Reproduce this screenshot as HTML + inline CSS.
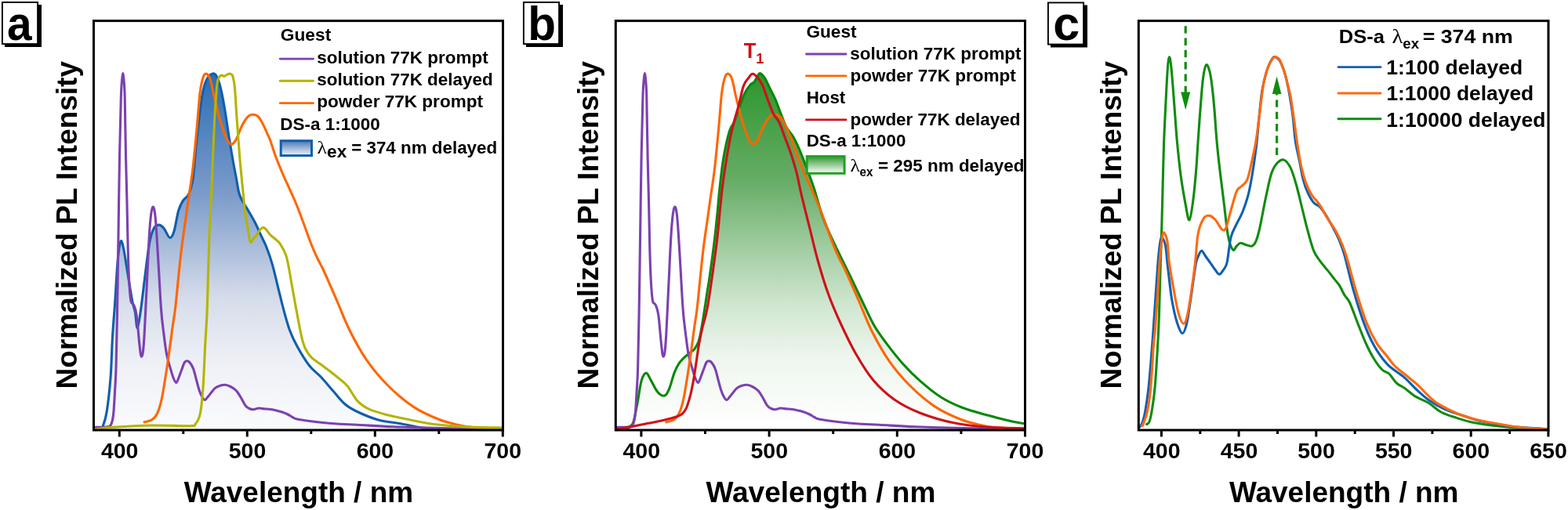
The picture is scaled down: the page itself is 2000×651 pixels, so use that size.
<!DOCTYPE html>
<html><head><meta charset="utf-8"><title>PL spectra</title>
<style>html,body{margin:0;padding:0;background:#fff;}svg{display:block;}</style>
</head><body>
<svg width="2000" height="651" viewBox="0 0 2000 651">
<defs>
<linearGradient id="gblue" x1="0" y1="93" x2="0" y2="548" gradientUnits="userSpaceOnUse">
<stop offset="0" stop-color="#2a6cb2"/><stop offset="0.06" stop-color="#3a76b8"/><stop offset="0.345" stop-color="#7d9ccb"/><stop offset="0.63" stop-color="#d5dcea"/><stop offset="0.81" stop-color="#eef0f6"/><stop offset="1" stop-color="#fafbfd"/></linearGradient>
<linearGradient id="ggreen" x1="0" y1="93" x2="0" y2="548" gradientUnits="userSpaceOnUse">
<stop offset="0" stop-color="#2c962c"/><stop offset="0.3" stop-color="#66ac66"/><stop offset="0.5" stop-color="#a4cea4"/><stop offset="0.65" stop-color="#d0e6d0"/><stop offset="0.8" stop-color="#eef6ee"/><stop offset="1" stop-color="#ffffff"/></linearGradient>
<linearGradient id="gbluebox" x1="0" y1="0" x2="0" y2="1">
<stop offset="0" stop-color="#4a76b4"/><stop offset="1" stop-color="#f4f6fa"/></linearGradient>
<linearGradient id="ggreenbox" x1="0" y1="0" x2="0" y2="1">
<stop offset="0" stop-color="#2f962f"/><stop offset="1" stop-color="#ffffff"/></linearGradient>
</defs>
<rect width="2000" height="651" fill="#fff"/>
<rect x="6" y="6" width="47" height="54" fill="#000"/>
<rect x="2.9" y="2.9" width="45.2" height="53.2" fill="#fff" stroke="#000" stroke-width="1.9"/>
<text x="8.90" y="51.30" style="font-family:'Liberation Sans',Arial,Helvetica,sans-serif;font-weight:bold;font-size:62px" textLength="31.60" lengthAdjust="spacingAndGlyphs">a</text>
<path d="M120.5,548.0 C121.8,547.8 126.2,547.7 128.0,547.0 C129.8,546.3 129.9,547.3 131.3,543.7 C132.7,540.1 134.6,535.8 136.2,525.3 C137.8,514.8 139.9,496.9 141.1,481.0 C142.3,465.1 142.6,445.6 143.5,430.0 C144.4,414.4 145.5,403.5 146.6,387.2 C147.7,370.9 149.0,345.2 150.2,332.0 C151.4,318.8 152.7,310.6 153.9,308.1 C155.1,305.7 156.1,310.2 157.6,317.3 C159.1,324.4 161.3,339.4 163.1,350.4 C164.9,361.4 167.1,375.5 168.6,383.5 C170.1,391.5 171.2,392.5 172.3,398.3 C173.4,404.1 174.1,419.1 175.3,418.5 C176.5,417.9 178.0,406.0 179.7,394.6 C181.3,383.2 183.4,364.5 185.2,350.4 C187.0,336.3 188.9,319.7 190.7,309.9 C192.5,300.1 194.2,295.3 196.2,291.5 C198.2,287.7 200.8,287.1 202.9,287.1 C205.1,287.1 206.8,288.8 209.1,291.5 C211.4,294.2 214.3,302.7 216.5,303.3 C218.7,303.9 220.2,300.9 222.0,295.2 C223.8,289.5 225.7,275.8 227.5,269.4 C229.3,263.0 231.0,260.0 233.1,256.6 C235.2,253.2 238.2,252.1 240.0,249.0 C241.8,245.9 242.9,242.0 244.0,238.0 C245.1,234.0 245.5,233.1 246.5,225.0 C247.5,216.9 248.4,203.2 249.8,189.4 C251.2,175.6 253.5,154.6 255.0,142.4 C256.5,130.2 257.4,123.2 258.9,116.3 C260.4,109.3 262.1,104.4 264.1,100.7 C266.1,97.0 268.7,94.8 270.7,94.1 C272.7,93.4 274.2,93.9 275.9,96.7 C277.6,99.5 279.4,104.3 281.1,111.1 C282.8,117.8 284.6,127.2 286.3,137.2 C288.0,147.2 289.8,160.2 291.5,171.1 C293.2,182.0 294.9,192.4 296.7,202.4 C298.4,212.4 300.7,224.0 302.0,231.1 C303.3,238.2 303.5,241.1 304.5,245.0 C305.5,248.9 306.3,251.0 308.2,254.7 C310.1,258.4 312.7,262.1 315.6,267.0 C318.5,271.9 322.5,278.7 325.4,284.2 C328.3,289.7 330.3,294.9 332.8,300.2 C335.3,305.5 337.7,309.8 340.2,316.2 C342.7,322.6 345.2,329.7 347.6,338.3 C350.1,346.9 352.4,358.0 354.9,367.8 C357.3,377.6 359.8,388.3 362.3,397.3 C364.8,406.3 366.9,414.6 369.7,422.0 C372.5,429.4 374.9,434.6 379.0,442.0 C383.1,449.4 389.3,459.9 394.4,466.5 C399.5,473.1 404.6,476.0 409.7,481.5 C414.8,487.0 420.0,493.5 425.1,499.3 C430.2,505.1 434.8,511.6 440.4,516.2 C446.0,520.8 451.7,523.7 458.9,527.0 C466.1,530.3 474.7,533.9 483.4,536.2 C492.1,538.5 501.9,539.2 511.1,540.8 C520.3,542.4 530.0,544.9 538.7,546.0 C547.4,547.1 546.4,547.2 563.3,547.5 C580.2,547.8 627.2,547.9 640.0,548.0 L640.0,548.5 L120.5,548.5 Z" fill="url(#gblue)" stroke="none"/>
<path d="M120.5,548.0 C121.8,547.8 126.2,547.7 128.0,547.0 C129.8,546.3 129.9,547.3 131.3,543.7 C132.7,540.1 134.6,535.8 136.2,525.3 C137.8,514.8 139.9,496.9 141.1,481.0 C142.3,465.1 142.6,445.6 143.5,430.0 C144.4,414.4 145.5,403.5 146.6,387.2 C147.7,370.9 149.0,345.2 150.2,332.0 C151.4,318.8 152.7,310.6 153.9,308.1 C155.1,305.7 156.1,310.2 157.6,317.3 C159.1,324.4 161.3,339.4 163.1,350.4 C164.9,361.4 167.1,375.5 168.6,383.5 C170.1,391.5 171.2,392.5 172.3,398.3 C173.4,404.1 174.1,419.1 175.3,418.5 C176.5,417.9 178.0,406.0 179.7,394.6 C181.3,383.2 183.4,364.5 185.2,350.4 C187.0,336.3 188.9,319.7 190.7,309.9 C192.5,300.1 194.2,295.3 196.2,291.5 C198.2,287.7 200.8,287.1 202.9,287.1 C205.1,287.1 206.8,288.8 209.1,291.5 C211.4,294.2 214.3,302.7 216.5,303.3 C218.7,303.9 220.2,300.9 222.0,295.2 C223.8,289.5 225.7,275.8 227.5,269.4 C229.3,263.0 231.0,260.0 233.1,256.6 C235.2,253.2 238.2,252.1 240.0,249.0 C241.8,245.9 242.9,242.0 244.0,238.0 C245.1,234.0 245.5,233.1 246.5,225.0 C247.5,216.9 248.4,203.2 249.8,189.4 C251.2,175.6 253.5,154.6 255.0,142.4 C256.5,130.2 257.4,123.2 258.9,116.3 C260.4,109.3 262.1,104.4 264.1,100.7 C266.1,97.0 268.7,94.8 270.7,94.1 C272.7,93.4 274.2,93.9 275.9,96.7 C277.6,99.5 279.4,104.3 281.1,111.1 C282.8,117.8 284.6,127.2 286.3,137.2 C288.0,147.2 289.8,160.2 291.5,171.1 C293.2,182.0 294.9,192.4 296.7,202.4 C298.4,212.4 300.7,224.0 302.0,231.1 C303.3,238.2 303.5,241.1 304.5,245.0 C305.5,248.9 306.3,251.0 308.2,254.7 C310.1,258.4 312.7,262.1 315.6,267.0 C318.5,271.9 322.5,278.7 325.4,284.2 C328.3,289.7 330.3,294.9 332.8,300.2 C335.3,305.5 337.7,309.8 340.2,316.2 C342.7,322.6 345.2,329.7 347.6,338.3 C350.1,346.9 352.4,358.0 354.9,367.8 C357.3,377.6 359.8,388.3 362.3,397.3 C364.8,406.3 366.9,414.6 369.7,422.0 C372.5,429.4 374.9,434.6 379.0,442.0 C383.1,449.4 389.3,459.9 394.4,466.5 C399.5,473.1 404.6,476.0 409.7,481.5 C414.8,487.0 420.0,493.5 425.1,499.3 C430.2,505.1 434.8,511.6 440.4,516.2 C446.0,520.8 451.7,523.7 458.9,527.0 C466.1,530.3 474.7,533.9 483.4,536.2 C492.1,538.5 501.9,539.2 511.1,540.8 C520.3,542.4 530.0,544.9 538.7,546.0 C547.4,547.1 546.4,547.2 563.3,547.5 C580.2,547.8 627.2,547.9 640.0,548.0" fill="none" stroke="#0f5fab" stroke-width="3.1" stroke-linejoin="round" stroke-linecap="round"/>
<path d="M120.5,545.5 C122.9,545.4 131.6,545.4 135.0,545.0 C138.4,544.6 139.4,545.5 141.0,543.0 C142.6,540.5 143.6,537.2 144.5,530.0 C145.4,522.8 145.9,510.0 146.5,500.0 C147.1,490.0 147.5,486.7 148.0,470.0 C148.5,453.3 149.0,428.3 149.5,400.0 C150.0,371.7 150.5,333.3 151.0,300.0 C151.5,266.7 151.9,229.2 152.5,200.0 C153.1,170.8 153.8,141.3 154.3,125.0 C154.8,108.7 155.2,107.3 155.6,102.0 C156.0,96.7 156.4,93.3 156.8,93.3 C157.2,93.3 157.6,96.7 158.0,102.0 C158.4,107.3 158.8,108.7 159.2,125.0 C159.6,141.3 160.0,177.5 160.5,200.0 C161.0,222.5 161.6,241.1 162.0,260.0 C162.4,278.9 162.7,297.8 163.1,313.6 C163.5,329.4 163.9,343.4 164.5,355.0 C165.1,366.6 165.8,377.8 166.8,383.5 C167.8,389.2 169.3,385.9 170.5,389.0 C171.7,392.1 173.0,393.7 174.2,402.0 C175.4,410.3 176.8,429.8 177.8,438.7 C178.8,447.6 179.5,455.3 180.4,455.3 C181.3,455.3 182.3,453.1 183.4,438.7 C184.5,424.3 185.8,392.7 187.0,368.8 C188.2,344.9 189.5,312.5 190.7,295.2 C191.9,277.9 193.2,268.1 194.4,265.0 C195.6,261.9 196.9,265.6 198.1,276.8 C199.3,288.0 200.6,312.4 201.8,332.0 C203.0,351.6 204.3,378.7 205.5,394.6 C206.7,410.6 207.9,417.9 209.1,427.7 C210.3,437.5 211.4,446.4 212.8,453.5 C214.2,460.6 215.9,465.2 217.3,470.0 C218.7,474.8 219.8,478.9 221.0,482.0 C222.2,485.1 223.5,488.4 224.7,488.4 C225.9,488.4 226.8,484.9 228.0,482.0 C229.2,479.1 230.8,474.4 232.0,471.2 C233.2,467.9 234.3,464.2 235.5,462.5 C236.7,460.8 238.2,460.6 239.4,460.9 C240.7,461.1 241.8,462.3 243.0,464.0 C244.2,465.7 245.6,467.7 246.8,471.2 C248.1,474.7 249.3,480.5 250.5,485.0 C251.7,489.5 252.9,494.5 254.2,498.2 C255.4,501.9 256.8,504.9 258.0,507.0 C259.2,509.1 260.2,510.8 261.5,510.5 C262.8,510.2 263.9,507.9 266.0,505.5 C268.1,503.1 271.5,498.0 273.8,495.8 C276.1,493.6 277.8,493.2 280.0,492.5 C282.2,491.8 285.0,491.1 287.3,491.3 C289.6,491.5 291.7,492.4 294.0,493.5 C296.3,494.6 298.7,495.9 300.9,498.2 C303.1,500.4 304.9,503.7 307.0,507.0 C309.1,510.3 311.4,515.5 313.2,517.9 C315.0,520.3 316.4,520.7 318.0,521.5 C319.6,522.3 321.0,522.9 323.0,522.8 C325.0,522.7 327.9,521.2 330.0,521.0 C332.1,520.8 332.8,521.4 335.3,521.6 C337.8,521.9 342.1,522.1 345.0,522.5 C347.9,522.9 350.0,523.4 352.5,524.0 C355.0,524.6 357.6,525.2 360.0,526.0 C362.4,526.8 365.0,527.9 367.2,529.0 C369.4,530.1 371.0,531.5 373.0,532.5 C375.0,533.5 375.3,534.2 379.0,535.0 C382.7,535.8 389.9,536.8 395.0,537.5 C400.1,538.2 403.9,538.7 409.7,539.3 C415.5,539.9 422.3,540.5 430.0,541.0 C437.7,541.5 443.8,541.7 455.8,542.3 C467.8,542.9 484.0,544.1 501.9,544.8 C519.8,545.5 540.3,546.1 563.3,546.5 C586.3,546.9 627.2,546.9 640.0,547.0" fill="none" stroke="#7c41b0" stroke-width="3.1" stroke-linejoin="round" stroke-linecap="round"/>
<path d="M184.1,538.8 C185.5,538.4 190.4,537.4 192.7,536.3 C195.0,535.2 196.3,534.2 198.0,532.0 C199.7,529.8 201.2,526.8 202.6,522.8 C204.0,518.8 205.3,513.7 206.5,508.0 C207.7,502.3 208.5,497.0 209.9,488.4 C211.3,479.8 213.2,467.9 214.8,456.4 C216.5,444.9 218.4,429.8 219.8,419.6 C221.2,409.4 222.1,405.8 223.4,395.0 C224.7,384.2 226.1,368.6 227.5,355.0 C228.9,341.4 230.3,327.0 232.0,313.7 C233.7,300.4 236.1,285.3 237.5,275.0 C238.9,264.7 239.3,261.9 240.7,252.0 C242.1,242.1 244.2,230.2 245.9,215.4 C247.6,200.6 249.6,179.4 251.1,163.3 C252.6,147.2 253.7,129.6 255.0,118.9 C256.3,108.2 257.6,103.4 258.9,99.3 C260.2,95.2 261.3,93.9 262.8,94.1 C264.3,94.3 266.2,95.7 268.0,100.7 C269.8,105.7 271.3,115.8 273.3,124.1 C275.3,132.3 277.4,141.9 279.8,150.2 C282.2,158.5 285.2,168.0 287.6,173.7 C290.0,179.3 291.9,183.2 294.1,184.1 C296.3,185.0 298.3,182.8 300.7,178.9 C303.1,175.0 305.9,165.7 308.5,160.7 C311.1,155.7 313.9,151.3 316.3,148.9 C318.7,146.5 320.6,146.3 322.8,146.3 C325.0,146.3 327.2,146.7 329.4,148.9 C331.6,151.1 333.9,155.7 335.9,159.4 C337.8,163.1 339.6,167.7 341.1,171.1 C342.6,174.5 343.3,175.3 345.0,180.0 C346.7,184.7 348.9,192.2 351.4,199.0 C353.9,205.8 356.9,213.1 360.0,220.5 C363.1,227.9 367.2,236.4 370.3,243.3 C373.4,250.2 375.8,255.4 378.5,262.0 C381.2,268.6 383.4,274.6 386.5,283.0 C389.6,291.4 394.2,304.7 397.3,312.5 C400.4,320.3 402.3,324.2 405.0,330.0 C407.7,335.8 409.5,338.0 413.6,347.0 C417.7,356.0 424.4,371.6 429.8,384.0 C435.2,396.4 439.7,409.1 446.0,421.7 C452.3,434.3 459.6,447.9 467.7,459.6 C475.8,471.3 484.8,482.1 494.7,492.0 C504.6,501.9 516.3,511.9 527.1,519.1 C537.9,526.3 550.0,531.4 559.6,535.3 C569.2,539.2 577.8,540.8 585.0,542.5 C592.2,544.2 593.7,544.7 602.9,545.5 C612.1,546.3 633.8,547.2 640.0,547.5" fill="none" stroke="#ff6600" stroke-width="3.1" stroke-linejoin="round" stroke-linecap="round"/>
<path d="M120.5,548.0 C124.3,547.6 131.6,546.2 143.6,545.4 C155.6,544.6 176.3,543.3 192.7,543.0 C209.1,542.7 232.5,544.0 241.9,543.7 C251.3,543.4 247.1,543.9 249.3,541.2 C251.6,538.5 253.8,535.7 255.4,527.7 C257.0,519.7 258.1,507.2 259.1,493.3 C260.1,479.4 260.7,459.8 261.5,444.2 C262.3,428.6 263.3,415.7 264.0,400.0 C264.7,384.3 265.0,366.7 265.5,350.0 C266.0,333.3 266.5,313.3 267.0,300.0 C267.5,286.7 268.1,278.3 268.5,270.0 C268.9,261.7 269.0,263.4 269.6,250.0 C270.2,236.6 271.2,208.2 272.0,189.4 C272.8,170.6 273.7,151.1 274.6,137.2 C275.5,123.3 276.3,112.4 277.2,105.9 C278.1,99.4 278.8,99.7 279.8,98.0 C280.8,96.3 282.0,96.1 283.0,96.0 C284.0,95.9 285.0,97.6 286.0,97.5 C287.0,97.4 287.9,96.1 289.0,95.5 C290.1,94.9 291.8,94.1 292.8,94.0 C293.8,93.9 294.3,94.4 295.0,95.0 C295.7,95.6 296.2,94.8 296.9,97.5 C297.6,100.2 298.5,102.3 299.4,111.1 C300.2,119.9 300.9,135.0 302.0,150.2 C303.1,165.4 304.6,186.9 305.9,202.4 C307.2,217.9 308.7,231.7 309.8,243.0 C310.9,254.3 311.5,262.3 312.5,270.0 C313.5,277.7 314.5,282.5 315.6,289.0 C316.7,295.5 318.1,306.1 319.3,308.8 C320.5,311.5 321.6,306.6 323.0,305.0 C324.4,303.4 326.4,301.0 327.9,299.0 C329.4,297.0 330.6,294.4 332.0,293.0 C333.4,291.6 335.0,290.1 336.5,290.4 C338.0,290.7 339.6,293.4 341.0,295.0 C342.4,296.6 343.4,298.5 345.1,300.2 C346.8,301.9 348.9,303.1 351.0,305.0 C353.1,306.9 355.1,307.8 357.4,311.3 C359.7,314.8 362.9,320.4 364.8,326.0 C366.7,331.6 367.8,338.9 369.0,345.0 C370.2,351.1 370.6,354.2 372.1,362.9 C373.7,371.6 376.1,385.8 378.3,397.3 C380.5,408.8 383.2,423.7 385.1,431.8 C387.1,439.9 387.9,441.9 390.0,446.0 C392.1,450.1 394.1,453.1 397.4,456.4 C400.7,459.7 405.6,462.5 409.7,465.6 C413.8,468.7 418.2,471.8 422.0,474.8 C425.8,477.8 429.1,480.3 432.7,483.4 C436.3,486.5 439.6,488.5 443.5,493.2 C447.4,497.9 451.2,506.7 455.8,511.6 C460.4,516.5 464.5,519.3 471.1,522.4 C477.8,525.5 488.0,528.0 495.7,530.1 C503.4,532.2 508.5,532.9 517.2,534.7 C525.9,536.5 537.7,539.3 547.9,540.8 C558.1,542.3 568.4,543.1 578.6,543.9 C588.8,544.7 599.1,545.0 609.3,545.4 C619.5,545.8 634.9,545.9 640.0,546.0" fill="none" stroke="#b3b500" stroke-width="3.1" stroke-linejoin="round" stroke-linecap="round"/>
<rect x="119.5" y="26.6" width="522" height="522.4" fill="none" stroke="#000" stroke-width="3"/>
<line x1="152.3" y1="549" x2="152.3" y2="557.5" stroke="#000" stroke-width="3"/>
<line x1="315.3" y1="549" x2="315.3" y2="557.5" stroke="#000" stroke-width="3"/>
<line x1="478.3" y1="549" x2="478.3" y2="557.5" stroke="#000" stroke-width="3"/>
<line x1="641.3" y1="549" x2="641.3" y2="557.5" stroke="#000" stroke-width="3"/>
<line x1="233.8" y1="549" x2="233.8" y2="554" stroke="#000" stroke-width="3"/>
<line x1="396.8" y1="549" x2="396.8" y2="554" stroke="#000" stroke-width="3"/>
<line x1="559.8" y1="549" x2="559.8" y2="554" stroke="#000" stroke-width="3"/>
<text x="128.93" y="585.3" style="font-family:'Liberation Sans',Arial,Helvetica,sans-serif;font-weight:bold;font-size:28.5px">400</text>
<text x="291.72" y="585.3" style="font-family:'Liberation Sans',Arial,Helvetica,sans-serif;font-weight:bold;font-size:28.5px">500</text>
<text x="454.65" y="585.3" style="font-family:'Liberation Sans',Arial,Helvetica,sans-serif;font-weight:bold;font-size:28.5px">600</text>
<text x="617.50" y="585.3" style="font-family:'Liberation Sans',Arial,Helvetica,sans-serif;font-weight:bold;font-size:28.5px">700</text>
<text transform="translate(97.60,496.40) rotate(-90)" x="0" y="0" style="font-family:'Liberation Sans',Arial,Helvetica,sans-serif;font-weight:bold;font-size:37.5px" textLength="418.38" lengthAdjust="spacingAndGlyphs">Normalized PL Intensity</text>
<text x="234.70" y="641.20" style="font-family:'Liberation Sans',Arial,Helvetica,sans-serif;font-weight:bold;font-size:37px" textLength="292.44" lengthAdjust="spacingAndGlyphs">Wavelength / nm</text>
<text x="357.69" y="52.10" style="font-family:'Liberation Sans',Arial,Helvetica,sans-serif;font-weight:bold;font-size:22.5px" textLength="64.53" lengthAdjust="spacingAndGlyphs">Guest</text>
<line x1="357.3" y1="75.1" x2="399.5" y2="75.1" stroke="#7c41b0" stroke-width="2.9" stroke-linecap="round"/>
<line x1="357.3" y1="103.3" x2="399.5" y2="103.3" stroke="#b3b500" stroke-width="2.9" stroke-linecap="round"/>
<line x1="357.3" y1="131.6" x2="399.5" y2="131.6" stroke="#ff6600" stroke-width="2.9" stroke-linecap="round"/>
<text x="404.21" y="81.40" style="font-family:'Liberation Sans',Arial,Helvetica,sans-serif;font-weight:bold;font-size:22.5px" textLength="218.56" lengthAdjust="spacingAndGlyphs">solution 77K prompt</text>
<text x="404.21" y="109.40" style="font-family:'Liberation Sans',Arial,Helvetica,sans-serif;font-weight:bold;font-size:22.5px" textLength="224.50" lengthAdjust="spacingAndGlyphs">solution 77K delayed</text>
<text x="404.23" y="137.30" style="font-family:'Liberation Sans',Arial,Helvetica,sans-serif;font-weight:bold;font-size:22.5px" textLength="211.80" lengthAdjust="spacingAndGlyphs">powder 77K prompt</text>
<text x="357.34" y="165.60" style="font-family:'Liberation Sans',Arial,Helvetica,sans-serif;font-weight:bold;font-size:22.5px" textLength="127.46" lengthAdjust="spacingAndGlyphs">DS-a 1:1000</text>
<rect x="358.2" y="179.7" width="39.3" height="18.9" fill="url(#gbluebox)" stroke="#0f5fab" stroke-width="3"/>
<text x="404.46" y="196.00" style="font-family:'Liberation Serif','DejaVu Serif',serif;font-weight:normal;font-size:23px" textLength="12.47" lengthAdjust="spacingAndGlyphs">&#955;</text>
<text x="417.10" y="200.80" style="font-family:'Liberation Sans',Arial,Helvetica,sans-serif;font-weight:bold;font-size:22.5px" textLength="25.08" lengthAdjust="spacingAndGlyphs">ex</text>
<text x="448.20" y="195.60" style="font-family:'Liberation Sans',Arial,Helvetica,sans-serif;font-weight:bold;font-size:22.5px" textLength="185.95" lengthAdjust="spacingAndGlyphs">= 374 nm delayed</text>
<rect x="671" y="6" width="47" height="54" fill="#000"/>
<rect x="667.9" y="2.9" width="45.2" height="53.2" fill="#fff" stroke="#000" stroke-width="1.9"/>
<text x="673.20" y="51.30" style="font-family:'Liberation Sans',Arial,Helvetica,sans-serif;font-weight:bold;font-size:62px" textLength="35.68" lengthAdjust="spacingAndGlyphs">b</text>
<path d="M786.5,548.6 C788.7,548.3 796.6,547.8 799.7,546.9 C802.8,546.0 803.6,544.6 805.0,543.0 C806.4,541.4 806.9,542.5 808.3,537.5 C809.7,532.5 811.6,521.6 813.3,513.0 C814.9,504.4 816.4,492.0 818.2,485.9 C820.0,479.8 822.2,476.1 824.3,476.1 C826.3,476.1 828.0,481.8 830.5,485.9 C833.0,490.0 836.2,497.5 839.1,500.7 C842.0,503.9 845.2,505.9 847.7,505.1 C850.2,504.3 851.8,500.6 853.8,495.8 C855.8,491.0 858.0,481.4 860.0,476.1 C862.0,470.8 864.1,467.0 866.1,463.8 C868.1,460.6 870.2,458.9 872.2,456.9 C874.2,454.8 876.1,453.4 878.4,451.5 C880.7,449.6 883.8,447.8 885.8,445.4 C887.8,442.9 889.4,440.4 890.7,436.8 C892.1,433.2 892.6,430.9 893.9,423.9 C895.2,416.9 897.4,403.3 898.7,394.8 C900.1,386.3 900.9,380.0 902.0,373.0 C903.1,366.0 903.6,364.4 905.2,353.0 C906.8,341.6 910.0,318.0 911.6,304.5 C913.2,291.0 913.9,282.8 915.0,272.0 C916.1,261.2 916.7,251.5 918.0,240.0 C919.3,228.5 920.6,214.9 922.6,203.0 C924.6,191.1 927.8,176.4 930.0,168.6 C932.2,160.8 934.1,161.2 936.1,156.3 C938.1,151.4 940.0,145.2 942.3,139.1 C944.6,132.9 947.2,124.5 949.7,119.4 C952.2,114.3 955.0,110.8 957.0,108.3 C959.0,105.8 960.4,106.7 962.0,104.7 C963.6,102.7 965.6,97.9 966.9,96.1 C968.2,94.2 968.4,93.0 969.8,93.6 C971.2,94.2 973.5,96.6 975.5,99.7 C977.5,102.8 979.4,107.5 981.6,112.0 C983.9,116.5 986.5,121.1 989.0,126.8 C991.5,132.5 993.9,140.3 996.4,146.4 C998.9,152.5 1001.2,159.1 1003.7,163.6 C1006.2,168.1 1008.6,169.4 1011.1,173.5 C1013.6,177.6 1015.6,181.6 1018.5,188.2 C1021.4,194.8 1025.0,204.2 1028.3,212.8 C1031.6,221.4 1034.4,228.6 1038.1,239.8 C1041.8,251.0 1045.6,267.0 1050.5,280.0 C1055.4,293.0 1061.9,306.1 1067.5,318.0 C1073.1,329.9 1078.7,340.5 1084.0,351.5 C1089.3,362.5 1094.3,373.3 1099.5,384.0 C1104.7,394.7 1109.8,406.5 1115.0,415.5 C1120.2,424.5 1124.4,430.0 1130.5,438.1 C1136.6,446.2 1144.4,456.2 1151.5,464.2 C1158.6,472.1 1165.1,478.7 1173.2,485.8 C1181.3,492.9 1191.2,501.2 1200.2,507.0 C1209.2,512.8 1217.4,516.4 1227.3,520.3 C1237.2,524.1 1248.9,527.1 1259.7,530.1 C1270.5,533.1 1284.5,536.5 1292.2,538.2 C1299.9,539.9 1303.7,540.1 1306.0,540.5 L1306.0,548.5 L786.5,548.5 Z" fill="url(#ggreen)" stroke="none"/>
<path d="M786.5,548.6 C788.7,548.3 796.6,547.8 799.7,546.9 C802.8,546.0 803.6,544.6 805.0,543.0 C806.4,541.4 806.9,542.5 808.3,537.5 C809.7,532.5 811.6,521.6 813.3,513.0 C814.9,504.4 816.4,492.0 818.2,485.9 C820.0,479.8 822.2,476.1 824.3,476.1 C826.3,476.1 828.0,481.8 830.5,485.9 C833.0,490.0 836.2,497.5 839.1,500.7 C842.0,503.9 845.2,505.9 847.7,505.1 C850.2,504.3 851.8,500.6 853.8,495.8 C855.8,491.0 858.0,481.4 860.0,476.1 C862.0,470.8 864.1,467.0 866.1,463.8 C868.1,460.6 870.2,458.9 872.2,456.9 C874.2,454.8 876.1,453.4 878.4,451.5 C880.7,449.6 883.8,447.8 885.8,445.4 C887.8,442.9 889.4,440.4 890.7,436.8 C892.1,433.2 892.6,430.9 893.9,423.9 C895.2,416.9 897.4,403.3 898.7,394.8 C900.1,386.3 900.9,380.0 902.0,373.0 C903.1,366.0 903.6,364.4 905.2,353.0 C906.8,341.6 910.0,318.0 911.6,304.5 C913.2,291.0 913.9,282.8 915.0,272.0 C916.1,261.2 916.7,251.5 918.0,240.0 C919.3,228.5 920.6,214.9 922.6,203.0 C924.6,191.1 927.8,176.4 930.0,168.6 C932.2,160.8 934.1,161.2 936.1,156.3 C938.1,151.4 940.0,145.2 942.3,139.1 C944.6,132.9 947.2,124.5 949.7,119.4 C952.2,114.3 955.0,110.8 957.0,108.3 C959.0,105.8 960.4,106.7 962.0,104.7 C963.6,102.7 965.6,97.9 966.9,96.1 C968.2,94.2 968.4,93.0 969.8,93.6 C971.2,94.2 973.5,96.6 975.5,99.7 C977.5,102.8 979.4,107.5 981.6,112.0 C983.9,116.5 986.5,121.1 989.0,126.8 C991.5,132.5 993.9,140.3 996.4,146.4 C998.9,152.5 1001.2,159.1 1003.7,163.6 C1006.2,168.1 1008.6,169.4 1011.1,173.5 C1013.6,177.6 1015.6,181.6 1018.5,188.2 C1021.4,194.8 1025.0,204.2 1028.3,212.8 C1031.6,221.4 1034.4,228.6 1038.1,239.8 C1041.8,251.0 1045.6,267.0 1050.5,280.0 C1055.4,293.0 1061.9,306.1 1067.5,318.0 C1073.1,329.9 1078.7,340.5 1084.0,351.5 C1089.3,362.5 1094.3,373.3 1099.5,384.0 C1104.7,394.7 1109.8,406.5 1115.0,415.5 C1120.2,424.5 1124.4,430.0 1130.5,438.1 C1136.6,446.2 1144.4,456.2 1151.5,464.2 C1158.6,472.1 1165.1,478.7 1173.2,485.8 C1181.3,492.9 1191.2,501.2 1200.2,507.0 C1209.2,512.8 1217.4,516.4 1227.3,520.3 C1237.2,524.1 1248.9,527.1 1259.7,530.1 C1270.5,533.1 1284.5,536.5 1292.2,538.2 C1299.9,539.9 1303.7,540.1 1306.0,540.5" fill="none" stroke="#0a880a" stroke-width="3.1" stroke-linejoin="round" stroke-linecap="round"/>
<path d="M786.1,545.5 C788.5,545.4 797.2,545.4 800.6,545.0 C804.0,544.6 805.0,545.5 806.6,543.0 C808.2,540.5 809.2,537.2 810.1,530.0 C811.0,522.8 811.5,510.0 812.1,500.0 C812.7,490.0 813.1,486.7 813.6,470.0 C814.1,453.3 814.6,428.3 815.1,400.0 C815.6,371.7 816.1,333.3 816.6,300.0 C817.1,266.7 817.5,229.2 818.1,200.0 C818.7,170.8 819.4,141.3 819.9,125.0 C820.4,108.7 820.8,107.3 821.2,102.0 C821.6,96.7 822.0,93.3 822.4,93.3 C822.8,93.3 823.2,96.7 823.6,102.0 C824.0,107.3 824.4,108.7 824.8,125.0 C825.2,141.3 825.6,177.5 826.1,200.0 C826.6,222.5 827.2,241.1 827.6,260.0 C828.0,278.9 828.3,297.8 828.7,313.6 C829.1,329.4 829.5,343.4 830.1,355.0 C830.7,366.6 831.4,377.8 832.4,383.5 C833.4,389.2 834.9,385.9 836.1,389.0 C837.3,392.1 838.6,393.7 839.8,402.0 C841.0,410.3 842.4,429.8 843.4,438.7 C844.4,447.6 845.1,455.3 846.0,455.3 C846.9,455.3 847.9,453.1 849.0,438.7 C850.1,424.3 851.4,392.7 852.6,368.8 C853.8,344.9 855.1,312.5 856.3,295.2 C857.5,277.9 858.8,268.1 860.0,265.0 C861.2,261.9 862.5,265.6 863.7,276.8 C864.9,288.0 866.2,312.4 867.4,332.0 C868.6,351.6 869.9,378.7 871.1,394.6 C872.3,410.6 873.5,417.9 874.7,427.7 C875.9,437.5 877.0,446.4 878.4,453.5 C879.8,460.6 881.5,465.2 882.9,470.0 C884.3,474.8 885.4,478.9 886.6,482.0 C887.8,485.1 889.1,488.4 890.3,488.4 C891.5,488.4 892.4,484.9 893.6,482.0 C894.8,479.1 896.4,474.4 897.6,471.2 C898.9,467.9 899.9,464.2 901.1,462.5 C902.3,460.8 903.8,460.6 905.0,460.9 C906.2,461.1 907.4,462.3 908.6,464.0 C909.8,465.7 911.2,467.7 912.4,471.2 C913.7,474.7 914.9,480.5 916.1,485.0 C917.3,489.5 918.5,494.5 919.8,498.2 C921.0,501.9 922.4,504.9 923.6,507.0 C924.8,509.1 925.8,510.8 927.1,510.5 C928.4,510.2 929.5,507.9 931.6,505.5 C933.7,503.1 937.1,498.0 939.4,495.8 C941.7,493.6 943.4,493.2 945.6,492.5 C947.9,491.8 950.6,491.1 952.9,491.3 C955.2,491.5 957.3,492.4 959.6,493.5 C961.9,494.6 964.3,495.9 966.5,498.2 C968.7,500.4 970.6,503.7 972.6,507.0 C974.6,510.3 977.0,515.5 978.8,517.9 C980.6,520.3 982.0,520.7 983.6,521.5 C985.2,522.3 986.6,522.9 988.6,522.8 C990.6,522.7 993.5,521.2 995.6,521.0 C997.7,520.8 998.4,521.4 1000.9,521.6 C1003.4,521.9 1007.7,522.1 1010.6,522.5 C1013.5,522.9 1015.6,523.4 1018.1,524.0 C1020.6,524.6 1023.1,525.2 1025.6,526.0 C1028.0,526.8 1030.6,527.9 1032.8,529.0 C1035.0,530.1 1036.6,531.5 1038.6,532.5 C1040.6,533.5 1040.9,534.2 1044.6,535.0 C1048.3,535.8 1055.5,536.8 1060.6,537.5 C1065.7,538.2 1069.5,538.7 1075.3,539.3 C1081.1,539.9 1087.9,540.5 1095.6,541.0 C1103.3,541.5 1109.4,541.7 1121.4,542.3 C1133.4,542.9 1149.6,544.1 1167.5,544.8 C1185.4,545.5 1205.9,546.1 1228.9,546.5 C1251.9,546.9 1292.8,546.9 1305.6,547.0" fill="none" stroke="#7c41b0" stroke-width="3.1" stroke-linejoin="round" stroke-linecap="round"/>
<path d="M849.7,538.8 C851.1,538.4 856.0,537.4 858.3,536.3 C860.6,535.2 862.0,534.2 863.6,532.0 C865.2,529.8 866.8,526.8 868.2,522.8 C869.6,518.8 870.9,513.7 872.1,508.0 C873.3,502.3 874.1,497.0 875.5,488.4 C876.9,479.8 878.8,467.9 880.4,456.4 C882.1,444.9 884.0,429.8 885.4,419.6 C886.8,409.4 887.7,405.8 889.0,395.0 C890.3,384.2 891.7,368.6 893.1,355.0 C894.5,341.4 895.9,327.0 897.6,313.7 C899.3,300.4 901.7,285.3 903.1,275.0 C904.5,264.7 904.9,261.9 906.3,252.0 C907.7,242.1 909.8,230.2 911.5,215.4 C913.2,200.6 915.2,179.4 916.7,163.3 C918.2,147.2 919.3,129.6 920.6,118.9 C921.9,108.2 923.2,103.4 924.5,99.3 C925.8,95.2 926.9,93.9 928.4,94.1 C929.9,94.3 931.9,95.7 933.6,100.7 C935.4,105.7 936.9,115.8 938.9,124.1 C940.9,132.3 943.0,141.9 945.4,150.2 C947.8,158.5 950.8,168.0 953.2,173.7 C955.6,179.3 957.5,183.2 959.7,184.1 C961.9,185.0 963.9,182.8 966.3,178.9 C968.7,175.0 971.5,165.7 974.1,160.7 C976.7,155.7 979.5,151.3 981.9,148.9 C984.3,146.5 986.2,146.3 988.4,146.3 C990.6,146.3 992.8,146.7 995.0,148.9 C997.2,151.1 999.5,155.7 1001.5,159.4 C1003.5,163.1 1005.2,167.7 1006.7,171.1 C1008.2,174.5 1008.9,175.3 1010.6,180.0 C1012.3,184.7 1014.5,192.2 1017.0,199.0 C1019.5,205.8 1022.4,213.1 1025.6,220.5 C1028.8,227.9 1032.8,236.4 1035.9,243.3 C1039.0,250.2 1041.4,255.4 1044.1,262.0 C1046.8,268.6 1049.0,274.6 1052.1,283.0 C1055.2,291.4 1059.8,304.7 1062.9,312.5 C1066.0,320.3 1067.9,324.2 1070.6,330.0 C1073.3,335.8 1075.1,338.0 1079.2,347.0 C1083.3,356.0 1090.0,371.6 1095.4,384.0 C1100.8,396.4 1105.3,409.1 1111.6,421.7 C1117.9,434.3 1125.2,447.9 1133.3,459.6 C1141.4,471.3 1150.4,482.1 1160.3,492.0 C1170.2,501.9 1181.9,511.9 1192.7,519.1 C1203.5,526.3 1215.6,531.4 1225.2,535.3 C1234.8,539.2 1243.4,540.8 1250.6,542.5 C1257.8,544.2 1259.3,544.7 1268.5,545.5 C1277.7,546.3 1299.4,547.2 1305.6,547.5" fill="none" stroke="#ff6600" stroke-width="3.1" stroke-linejoin="round" stroke-linecap="round"/>
<path d="M786.5,548.0 C789.6,547.5 798.8,545.9 805.3,544.7 C811.8,543.5 818.8,542.0 825.5,540.6 C832.2,539.2 839.4,538.1 845.8,536.6 C852.2,535.1 860.0,532.9 864.0,531.5 C868.0,530.1 868.2,530.0 870.1,528.3 C872.0,526.6 873.7,524.6 875.2,521.4 C876.7,518.2 878.1,513.3 879.3,509.2 C880.5,505.1 881.3,501.7 882.3,497.0 C883.3,492.3 884.3,486.9 885.3,480.8 C886.3,474.7 887.4,467.2 888.4,460.5 C889.4,453.8 890.2,447.1 891.4,440.3 C892.6,433.6 893.8,427.6 895.5,420.0 C897.2,412.4 899.8,406.0 901.9,394.8 C904.0,383.6 906.2,368.1 908.4,353.0 C910.5,337.9 912.6,323.3 914.8,304.5 C916.9,285.7 918.8,260.2 921.3,240.0 C923.8,219.8 927.5,197.2 930.0,183.3 C932.5,169.4 934.1,164.5 936.1,156.3 C938.1,148.1 940.2,142.0 942.3,134.2 C944.3,126.4 946.3,115.3 948.4,109.6 C950.5,103.8 952.7,102.2 954.6,99.7 C956.5,97.2 958.0,94.3 960.0,94.3 C962.0,94.3 964.7,97.2 966.9,99.7 C969.1,102.2 971.0,105.1 973.0,109.6 C975.0,114.1 976.9,120.9 979.1,126.8 C981.4,132.7 984.0,140.3 986.5,145.2 C989.0,150.1 991.4,151.2 993.9,156.3 C996.4,161.4 998.8,169.4 1001.3,175.9 C1003.8,182.4 1006.1,188.2 1008.6,195.6 C1011.1,203.0 1013.8,211.8 1016.0,220.2 C1018.2,228.6 1018.9,234.4 1021.6,246.0 C1024.3,257.6 1028.9,275.5 1032.5,290.0 C1036.1,304.5 1039.2,318.7 1043.3,333.0 C1047.3,347.3 1051.8,362.4 1056.8,376.0 C1061.8,389.6 1067.1,401.8 1073.0,414.5 C1078.9,427.2 1085.2,440.6 1092.0,452.3 C1098.8,464.1 1105.5,475.4 1113.6,485.0 C1121.7,494.6 1130.8,503.0 1140.7,510.0 C1150.6,517.0 1160.6,522.0 1173.2,527.0 C1185.8,532.0 1202.1,536.8 1216.5,539.8 C1230.9,542.8 1244.8,544.0 1259.7,545.2 C1274.6,546.4 1298.3,546.5 1306.0,546.8" fill="none" stroke="#d0101a" stroke-width="3.1" stroke-linejoin="round" stroke-linecap="round"/>
<rect x="785.3" y="26.6" width="522.2" height="522.4" fill="none" stroke="#000" stroke-width="3"/>
<line x1="817.9" y1="549" x2="817.9" y2="557.5" stroke="#000" stroke-width="3"/>
<line x1="981.1" y1="549" x2="981.1" y2="557.5" stroke="#000" stroke-width="3"/>
<line x1="1144.3" y1="549" x2="1144.3" y2="557.5" stroke="#000" stroke-width="3"/>
<line x1="1307.5" y1="549" x2="1307.5" y2="557.5" stroke="#000" stroke-width="3"/>
<line x1="899.5" y1="549" x2="899.5" y2="554" stroke="#000" stroke-width="3"/>
<line x1="1062.7" y1="549" x2="1062.7" y2="554" stroke="#000" stroke-width="3"/>
<line x1="1225.9" y1="549" x2="1225.9" y2="554" stroke="#000" stroke-width="3"/>
<text x="794.53" y="585.3" style="font-family:'Liberation Sans',Arial,Helvetica,sans-serif;font-weight:bold;font-size:28.5px">400</text>
<text x="957.52" y="585.3" style="font-family:'Liberation Sans',Arial,Helvetica,sans-serif;font-weight:bold;font-size:28.5px">500</text>
<text x="1120.64" y="585.3" style="font-family:'Liberation Sans',Arial,Helvetica,sans-serif;font-weight:bold;font-size:28.5px">600</text>
<text x="1283.70" y="585.3" style="font-family:'Liberation Sans',Arial,Helvetica,sans-serif;font-weight:bold;font-size:28.5px">700</text>
<text transform="translate(763.30,496.40) rotate(-90)" x="0" y="0" style="font-family:'Liberation Sans',Arial,Helvetica,sans-serif;font-weight:bold;font-size:37.5px" textLength="418.38" lengthAdjust="spacingAndGlyphs">Normalized PL Intensity</text>
<text x="900.40" y="641.20" style="font-family:'Liberation Sans',Arial,Helvetica,sans-serif;font-weight:bold;font-size:37px" textLength="293.04" lengthAdjust="spacingAndGlyphs">Wavelength / nm</text>
<text x="948.84" y="73.90" style="font-family:'Liberation Sans',Arial,Helvetica,sans-serif;font-weight:bold;font-size:27px;fill:#d0101a" textLength="15.63" lengthAdjust="spacingAndGlyphs">T</text>
<text x="964.33" y="80.60" style="font-family:'Liberation Sans',Arial,Helvetica,sans-serif;font-weight:bold;font-size:18px;fill:#d0101a">1</text>
<text x="1028.50" y="48.20" style="font-family:'Liberation Sans',Arial,Helvetica,sans-serif;font-weight:bold;font-size:22.5px" textLength="64.02" lengthAdjust="spacingAndGlyphs">Guest</text>
<line x1="1028.5" y1="69" x2="1079" y2="69" stroke="#7c41b0" stroke-width="2.9" stroke-linecap="round"/>
<line x1="1028.5" y1="96.9" x2="1079" y2="96.9" stroke="#ff6600" stroke-width="2.9" stroke-linecap="round"/>
<text x="1084.21" y="76.20" style="font-family:'Liberation Sans',Arial,Helvetica,sans-serif;font-weight:bold;font-size:22.5px" textLength="218.36" lengthAdjust="spacingAndGlyphs">solution 77K prompt</text>
<text x="1084.54" y="103.80" style="font-family:'Liberation Sans',Arial,Helvetica,sans-serif;font-weight:bold;font-size:22.5px" textLength="211.19" lengthAdjust="spacingAndGlyphs">powder 77K prompt</text>
<text x="1028.65" y="132.10" style="font-family:'Liberation Sans',Arial,Helvetica,sans-serif;font-weight:bold;font-size:22.5px" textLength="49.63" lengthAdjust="spacingAndGlyphs">Host</text>
<line x1="1028.5" y1="152.9" x2="1079" y2="152.9" stroke="#d0101a" stroke-width="2.9" stroke-linecap="round"/>
<text x="1084.54" y="159.80" style="font-family:'Liberation Sans',Arial,Helvetica,sans-serif;font-weight:bold;font-size:22.5px" textLength="216.92" lengthAdjust="spacingAndGlyphs">powder 77K delayed</text>
<text x="1028.65" y="187.40" style="font-family:'Liberation Sans',Arial,Helvetica,sans-serif;font-weight:bold;font-size:22.5px" textLength="126.75" lengthAdjust="spacingAndGlyphs">DS-a 1:1000</text>
<rect x="1029.2" y="199.6" width="47.9" height="21.7" fill="url(#ggreenbox)" stroke="#22a022" stroke-width="3"/>
<text x="1084.46" y="218.70" style="font-family:'Liberation Serif','DejaVu Serif',serif;font-weight:normal;font-size:22.5px" textLength="12.36" lengthAdjust="spacingAndGlyphs">&#955;</text>
<text x="1096.59" y="224.80" style="font-family:'Liberation Sans',Arial,Helvetica,sans-serif;font-weight:bold;font-size:16.3px" textLength="16.90" lengthAdjust="spacingAndGlyphs">ex</text>
<text x="1120.00" y="218.70" style="font-family:'Liberation Sans',Arial,Helvetica,sans-serif;font-weight:bold;font-size:22.5px" textLength="186.46" lengthAdjust="spacingAndGlyphs">= 295 nm delayed</text>
<rect x="1340" y="6.5" width="47" height="54" fill="#000"/>
<rect x="1336.9" y="3.4" width="45.2" height="53.2" fill="#fff" stroke="#000" stroke-width="1.9"/>
<text x="1343.27" y="51.30" style="font-family:'Liberation Sans',Arial,Helvetica,sans-serif;font-weight:bold;font-size:62px" textLength="33.83" lengthAdjust="spacingAndGlyphs">c</text>
<path d="M1462.6,541.6 C1463.2,541.0 1464.9,541.4 1466.1,538.0 C1467.3,534.6 1468.5,528.7 1469.7,521.2 C1470.9,513.7 1472.0,506.5 1473.2,493.0 C1474.4,479.5 1475.8,455.5 1476.7,440.0 C1477.6,424.5 1477.9,417.5 1478.5,400.0 C1479.1,382.5 1479.8,351.7 1480.3,335.0 C1480.8,318.3 1481.1,313.6 1481.5,300.0 C1481.9,286.4 1482.2,273.4 1482.7,253.7 C1483.2,234.0 1483.8,204.3 1484.6,182.0 C1485.4,159.7 1486.7,136.2 1487.5,120.0 C1488.3,103.8 1488.9,92.8 1489.5,85.0 C1490.1,77.2 1490.6,73.4 1491.3,72.9 C1492.0,72.4 1492.7,75.8 1493.5,82.0 C1494.3,88.2 1495.1,98.7 1496.0,110.0 C1496.9,121.3 1498.1,138.0 1499.0,150.0 C1499.9,162.0 1500.3,169.6 1501.5,182.0 C1502.7,194.4 1504.3,211.0 1506.1,224.2 C1507.9,237.4 1510.4,251.7 1512.2,261.1 C1514.0,270.5 1515.4,282.0 1517.1,280.8 C1518.8,279.6 1520.7,264.3 1522.1,253.7 C1523.5,243.0 1524.7,228.8 1525.7,216.9 C1526.7,205.0 1527.1,194.8 1528.0,182.0 C1528.9,169.2 1529.9,153.7 1531.0,140.0 C1532.1,126.3 1533.2,109.5 1534.5,100.0 C1535.8,90.5 1537.1,84.2 1538.5,82.8 C1539.9,81.4 1541.8,86.9 1543.0,91.4 C1544.2,95.9 1545.0,101.9 1546.0,110.0 C1547.0,118.1 1548.0,128.3 1549.0,140.0 C1550.0,151.7 1550.8,166.4 1552.0,180.0 C1553.2,193.6 1554.9,208.3 1556.5,221.8 C1558.1,235.3 1559.8,248.0 1561.4,261.1 C1563.0,274.2 1564.5,290.9 1566.3,300.5 C1568.1,310.1 1570.7,316.6 1572.5,318.9 C1574.3,321.1 1575.8,315.4 1577.4,314.0 C1579.0,312.6 1580.2,310.5 1582.3,310.3 C1584.3,310.1 1587.2,312.1 1589.7,312.7 C1592.2,313.3 1595.0,314.8 1597.0,314.0 C1599.0,313.2 1600.3,311.7 1602.0,307.8 C1603.7,303.9 1604.9,299.6 1606.9,290.6 C1608.9,281.6 1611.8,265.2 1614.2,253.7 C1616.7,242.2 1619.1,229.4 1621.6,221.8 C1624.1,214.2 1626.3,211.2 1629.0,208.3 C1631.7,205.4 1634.7,203.1 1637.6,204.1 C1640.5,205.1 1643.5,209.0 1646.2,214.4 C1648.9,219.8 1651.1,227.9 1653.6,236.5 C1656.0,245.1 1658.5,256.2 1660.9,266.0 C1663.4,275.8 1665.8,286.5 1668.3,295.5 C1670.8,304.5 1673.2,314.0 1675.7,320.1 C1678.2,326.2 1680.1,328.1 1683.1,332.4 C1686.1,336.6 1690.5,341.5 1693.8,345.6 C1697.1,349.7 1700.2,353.9 1702.7,357.1 C1705.2,360.3 1706.8,361.6 1708.8,364.9 C1710.8,368.2 1712.8,373.2 1715.0,376.8 C1717.2,380.4 1718.8,380.2 1721.7,386.5 C1724.6,392.8 1729.1,405.8 1732.5,414.4 C1735.9,423.0 1738.8,430.9 1742.1,438.0 C1745.3,445.1 1748.5,451.5 1752.0,457.2 C1755.5,462.9 1759.7,468.7 1763.0,472.0 C1766.3,475.3 1768.5,474.0 1771.6,476.9 C1774.7,479.8 1778.2,486.1 1781.5,489.2 C1784.8,492.3 1787.2,492.4 1791.3,495.3 C1795.4,498.2 1800.7,503.1 1806.0,506.4 C1811.3,509.7 1817.9,511.7 1823.2,515.0 C1828.5,518.3 1832.2,522.9 1838.0,526.0 C1843.8,529.1 1850.7,531.1 1857.7,533.4 C1864.7,535.7 1872.0,538.0 1879.8,539.6 C1887.6,541.2 1895.0,542.1 1904.4,543.2 C1913.8,544.3 1924.8,545.5 1936.3,546.2 C1947.8,547.0 1967.3,547.5 1973.5,547.7" fill="none" stroke="#108c10" stroke-width="3.1" stroke-linejoin="round" stroke-linecap="round"/>
<path d="M1453.8,545.2 C1454.4,544.2 1456.1,542.3 1457.3,538.9 C1458.5,535.5 1459.5,532.4 1460.8,524.8 C1462.1,517.1 1463.7,507.1 1465.2,493.0 C1466.7,478.9 1468.5,455.5 1469.7,440.0 C1470.9,424.5 1471.3,416.7 1472.5,400.0 C1473.7,383.3 1475.5,354.2 1476.6,340.0 C1477.7,325.8 1478.2,321.2 1479.0,315.0 C1479.8,308.8 1480.3,303.3 1481.5,302.9 C1482.7,302.5 1485.2,307.3 1486.4,312.7 C1487.6,318.1 1488.0,326.8 1488.9,335.0 C1489.8,343.2 1491.0,353.8 1492.0,362.0 C1493.0,370.2 1493.5,376.0 1495.0,384.2 C1496.5,392.4 1499.0,404.3 1501.2,411.2 C1503.4,418.1 1506.0,425.1 1508.0,425.5 C1510.0,425.9 1511.8,420.6 1513.5,413.7 C1515.2,406.8 1516.8,394.9 1518.4,384.2 C1520.0,373.5 1522.1,357.9 1523.3,349.7 C1524.5,341.5 1524.9,338.7 1525.7,335.0 C1526.5,331.3 1527.1,330.0 1528.2,327.5 C1529.3,325.0 1531.0,320.1 1532.6,320.1 C1534.2,320.1 1536.1,324.8 1538.0,327.5 C1539.9,330.2 1542.2,333.2 1544.2,336.1 C1546.2,339.0 1548.5,342.5 1550.3,344.8 C1552.1,347.1 1553.5,350.2 1555.2,350.2 C1556.9,350.2 1558.6,347.3 1560.2,344.8 C1561.8,342.3 1563.5,342.0 1565.1,335.0 C1566.7,328.0 1568.0,311.1 1570.0,302.9 C1572.0,294.7 1575.0,291.0 1577.4,285.7 C1579.9,280.4 1582.2,277.1 1584.7,271.0 C1587.2,264.9 1590.0,256.6 1592.1,248.8 C1594.1,241.0 1595.6,232.4 1597.0,224.2 C1598.4,216.0 1599.7,207.1 1600.7,199.7 C1601.7,192.3 1602.3,188.3 1603.2,180.0 C1604.1,171.7 1604.9,160.8 1606.0,150.0 C1607.1,139.2 1608.4,124.8 1610.0,115.0 C1611.6,105.2 1613.8,97.2 1615.5,91.4 C1617.2,85.6 1618.5,83.1 1620.0,80.0 C1621.5,76.9 1623.2,74.1 1624.5,73.0 C1625.8,71.9 1626.8,72.8 1628.0,73.5 C1629.2,74.2 1630.5,74.6 1632.0,77.0 C1633.5,79.4 1635.5,83.8 1637.0,88.0 C1638.5,92.2 1639.7,96.3 1641.0,102.0 C1642.3,107.7 1643.7,114.3 1645.0,122.0 C1646.3,129.7 1647.8,138.3 1649.0,148.0 C1650.2,157.7 1650.9,170.6 1652.3,180.0 C1653.7,189.4 1655.6,196.4 1657.3,204.6 C1659.0,212.8 1660.4,222.2 1662.2,229.2 C1664.0,236.2 1666.0,241.5 1668.3,246.4 C1670.5,251.3 1673.2,255.8 1675.7,258.7 C1678.2,261.6 1680.6,261.2 1683.1,263.6 C1685.5,266.1 1687.5,268.9 1690.4,273.4 C1693.3,277.9 1697.4,285.3 1700.3,290.6 C1703.2,295.9 1705.2,299.5 1707.7,305.4 C1710.2,311.3 1712.0,315.4 1715.0,326.0 C1718.0,336.6 1722.0,355.2 1726.0,369.2 C1730.0,383.2 1734.6,398.3 1738.9,410.1 C1743.2,421.9 1747.0,430.9 1752.0,440.0 C1757.0,449.1 1762.7,457.6 1769.2,464.6 C1775.8,471.6 1785.2,476.5 1791.3,481.8 C1797.4,487.1 1800.7,491.6 1806.0,496.5 C1811.3,501.4 1817.0,507.0 1823.2,511.3 C1829.4,515.6 1835.5,519.1 1842.9,522.4 C1850.3,525.7 1859.3,528.4 1867.5,531.0 C1875.7,533.6 1881.8,536.0 1892.1,538.3 C1902.3,540.5 1915.4,543.0 1929.0,544.5 C1942.6,546.0 1966.1,547.0 1973.5,547.5" fill="none" stroke="#1060b0" stroke-width="3.1" stroke-linejoin="round" stroke-linecap="round"/>
<path d="M1456.4,543.3 C1456.7,543.0 1457.0,544.7 1458.2,541.6 C1459.4,538.5 1461.9,532.9 1463.5,524.8 C1465.1,516.7 1466.6,507.1 1467.9,493.0 C1469.2,478.9 1470.5,452.2 1471.4,440.0 C1472.3,427.8 1472.7,430.8 1473.5,420.0 C1474.3,409.2 1475.6,389.2 1476.5,375.0 C1477.4,360.8 1478.2,345.8 1479.0,335.0 C1479.8,324.2 1480.7,316.4 1481.5,310.0 C1482.3,303.6 1482.8,297.2 1484.0,296.8 C1485.2,296.4 1487.7,301.4 1488.9,307.8 C1490.1,314.2 1489.9,324.3 1491.3,335.0 C1492.7,345.7 1495.5,360.8 1497.5,371.9 C1499.5,383.0 1501.5,394.5 1503.6,401.4 C1505.6,408.3 1507.9,413.2 1509.8,413.2 C1511.7,413.2 1513.1,408.3 1514.7,401.4 C1516.3,394.5 1518.0,383.0 1519.6,371.9 C1521.2,360.8 1523.1,347.3 1524.5,335.0 C1525.9,322.7 1526.4,307.4 1528.2,298.0 C1530.0,288.6 1533.1,282.1 1535.6,278.3 C1538.1,274.5 1540.5,275.0 1543.0,275.4 C1545.5,275.8 1547.6,277.9 1550.3,280.8 C1553.0,283.8 1556.7,291.5 1558.9,293.1 C1561.2,294.7 1562.0,294.7 1563.8,290.6 C1565.6,286.5 1567.7,276.3 1570.0,268.5 C1572.3,260.7 1575.2,249.0 1577.4,243.9 C1579.7,238.8 1581.2,240.2 1583.5,237.8 C1585.8,235.4 1588.7,234.7 1590.9,229.2 C1593.2,223.7 1595.2,212.8 1597.0,204.6 C1598.8,196.4 1600.5,189.1 1602.0,180.0 C1603.5,170.9 1604.8,159.4 1606.0,150.0 C1607.2,140.6 1608.3,130.8 1609.3,123.3 C1610.3,115.8 1611.0,110.3 1612.0,105.0 C1613.0,99.7 1614.2,95.6 1615.5,91.4 C1616.8,87.2 1618.4,83.1 1620.0,80.0 C1621.6,76.9 1623.4,73.7 1625.3,72.9 C1627.2,72.1 1629.9,73.7 1631.5,75.4 C1633.1,77.1 1633.8,79.9 1635.0,83.0 C1636.2,86.1 1637.5,89.6 1638.8,93.8 C1640.0,98.0 1641.3,103.1 1642.5,108.0 C1643.7,112.9 1644.9,116.0 1646.2,123.3 C1647.5,130.6 1649.1,142.2 1650.5,152.0 C1651.9,161.8 1653.0,172.0 1654.5,182.0 C1656.0,192.0 1657.8,203.3 1659.7,212.0 C1661.6,220.7 1663.7,228.0 1665.9,234.1 C1668.2,240.2 1670.3,244.3 1673.2,248.8 C1676.1,253.3 1679.8,256.2 1683.1,261.1 C1686.4,266.0 1689.6,273.0 1692.9,278.3 C1696.2,283.6 1700.1,288.7 1702.7,293.1 C1705.3,297.5 1706.8,300.2 1708.8,304.7 C1710.8,309.2 1713.2,315.0 1715.0,320.0 C1716.8,325.0 1717.0,325.9 1719.6,334.8 C1722.1,343.7 1726.4,360.6 1730.3,373.5 C1734.2,386.4 1738.9,401.5 1743.2,412.3 C1747.5,423.1 1751.8,431.0 1756.1,438.1 C1760.4,445.2 1765.4,449.9 1769.2,454.7 C1773.0,459.5 1774.9,462.9 1779.0,467.0 C1783.1,471.1 1788.8,475.2 1793.7,479.3 C1798.6,483.4 1803.6,487.1 1808.5,491.6 C1813.4,496.1 1818.7,502.3 1823.2,506.4 C1827.7,510.5 1829.3,512.5 1835.5,516.2 C1841.7,519.9 1851.9,525.2 1860.1,528.5 C1868.3,531.8 1875.3,533.6 1884.7,535.9 C1894.1,538.1 1907.3,540.4 1916.7,542.0 C1926.1,543.6 1931.7,544.8 1941.2,545.7 C1950.7,546.7 1968.1,547.4 1973.5,547.7" fill="none" stroke="#ff6a10" stroke-width="3.1" stroke-linejoin="round" stroke-linecap="round"/>
<rect x="1452.3" y="26.6" width="522.7" height="522.4" fill="none" stroke="#000" stroke-width="3"/>
<line x1="1481.4" y1="549" x2="1481.4" y2="557.5" stroke="#000" stroke-width="3"/>
<line x1="1580.1" y1="549" x2="1580.1" y2="557.5" stroke="#000" stroke-width="3"/>
<line x1="1678.8" y1="549" x2="1678.8" y2="557.5" stroke="#000" stroke-width="3"/>
<line x1="1777.5" y1="549" x2="1777.5" y2="557.5" stroke="#000" stroke-width="3"/>
<line x1="1876.2" y1="549" x2="1876.2" y2="557.5" stroke="#000" stroke-width="3"/>
<line x1="1974.9" y1="549" x2="1974.9" y2="557.5" stroke="#000" stroke-width="3"/>
<line x1="1530.8" y1="549" x2="1530.8" y2="554" stroke="#000" stroke-width="3"/>
<line x1="1629.5" y1="549" x2="1629.5" y2="554" stroke="#000" stroke-width="3"/>
<line x1="1728.2" y1="549" x2="1728.2" y2="554" stroke="#000" stroke-width="3"/>
<line x1="1826.9" y1="549" x2="1826.9" y2="554" stroke="#000" stroke-width="3"/>
<line x1="1925.6" y1="549" x2="1925.6" y2="554" stroke="#000" stroke-width="3"/>
<text x="1458.03" y="585.3" style="font-family:'Liberation Sans',Arial,Helvetica,sans-serif;font-weight:bold;font-size:28.5px">400</text>
<text x="1556.73" y="585.3" style="font-family:'Liberation Sans',Arial,Helvetica,sans-serif;font-weight:bold;font-size:28.5px">450</text>
<text x="1655.22" y="585.3" style="font-family:'Liberation Sans',Arial,Helvetica,sans-serif;font-weight:bold;font-size:28.5px">500</text>
<text x="1753.92" y="585.3" style="font-family:'Liberation Sans',Arial,Helvetica,sans-serif;font-weight:bold;font-size:28.5px">550</text>
<text x="1852.55" y="585.3" style="font-family:'Liberation Sans',Arial,Helvetica,sans-serif;font-weight:bold;font-size:28.5px">600</text>
<text x="1951.25" y="585.3" style="font-family:'Liberation Sans',Arial,Helvetica,sans-serif;font-weight:bold;font-size:28.5px">650</text>
<text transform="translate(1429.70,496.40) rotate(-90)" x="0" y="0" style="font-family:'Liberation Sans',Arial,Helvetica,sans-serif;font-weight:bold;font-size:37.5px" textLength="418.38" lengthAdjust="spacingAndGlyphs">Normalized PL Intensity</text>
<text x="1567.90" y="641.20" style="font-family:'Liberation Sans',Arial,Helvetica,sans-serif;font-weight:bold;font-size:37px" textLength="292.54" lengthAdjust="spacingAndGlyphs">Wavelength / nm</text>
<line x1="1512.2" y1="33.2" x2="1512.2" y2="120" stroke="#108c10" stroke-width="3.2" stroke-dasharray="9.4,5.9"/>
<path d="M1506.2,117.6 L1518.2,117.6 L1512.2,140.2 Z" fill="#108c10"/>
<line x1="1628.6" y1="198" x2="1628.6" y2="118" stroke="#108c10" stroke-width="3.2" stroke-dasharray="9.4,5.9"/>
<path d="M1622.8,120 L1634.4,120 L1628.6,97.6 Z" fill="#108c10"/>
<text x="1707.74" y="55.20" style="font-family:'Liberation Sans',Arial,Helvetica,sans-serif;font-weight:bold;font-size:24px" textLength="58.09" lengthAdjust="spacingAndGlyphs">DS-a</text>
<text x="1775.47" y="55.20" style="font-family:'Liberation Serif','DejaVu Serif',serif;font-weight:normal;font-size:25px" textLength="14.07" lengthAdjust="spacingAndGlyphs">&#955;</text>
<text x="1789.25" y="61.80" style="font-family:'Liberation Sans',Arial,Helvetica,sans-serif;font-weight:bold;font-size:19px" textLength="20.78" lengthAdjust="spacingAndGlyphs">ex</text>
<text x="1814.73" y="55.20" style="font-family:'Liberation Sans',Arial,Helvetica,sans-serif;font-weight:bold;font-size:24px" textLength="114.95" lengthAdjust="spacingAndGlyphs">= 374 nm</text>
<line x1="1707" y1="85.6" x2="1761" y2="85.6" stroke="#1060b0" stroke-width="2.9" stroke-linecap="round"/>
<line x1="1707" y1="119" x2="1761" y2="119" stroke="#ff6a10" stroke-width="2.9" stroke-linecap="round"/>
<line x1="1707" y1="151.7" x2="1761" y2="151.7" stroke="#108c10" stroke-width="2.9" stroke-linecap="round"/>
<text x="1768.38" y="95.30" style="font-family:'Liberation Sans',Arial,Helvetica,sans-serif;font-weight:bold;font-size:26.4px" textLength="173.74" lengthAdjust="spacingAndGlyphs">1:100 delayed</text>
<text x="1768.38" y="128.30" style="font-family:'Liberation Sans',Arial,Helvetica,sans-serif;font-weight:bold;font-size:26.4px" textLength="187.86" lengthAdjust="spacingAndGlyphs">1:1000 delayed</text>
<text x="1768.38" y="161.90" style="font-family:'Liberation Sans',Arial,Helvetica,sans-serif;font-weight:bold;font-size:26.4px" textLength="203.00" lengthAdjust="spacingAndGlyphs">1:10000 delayed</text>
</svg>
</body></html>
